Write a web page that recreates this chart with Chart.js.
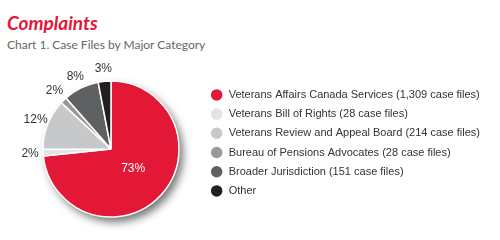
<!DOCTYPE html>
<html>
<head>
<meta charset="utf-8">
<script src="https://cdn.jsdelivr.net/npm/chart.js@4"></script>
<style>
    body { margin: 0; background: #fff; }
    #wrap { position: relative; width: 500px; height: 240px; }
    #title { position: absolute; left: 7px; top: 12px; font: italic bold 19px Lato, sans-serif; color: #e31837; line-height: 22px; }
    #subtitle { position: absolute; left: 7px; top: 37px; font: 12px Lato, sans-serif; color: #666; line-height: 16px; }
    canvas { position: absolute; left: 0; top: 0; }
</style>
</head>
<body>
<div id="wrap">
    <div id="title">Complaints</div>
    <div id="subtitle">Chart 1. Case Files by Major Category</div>
    <canvas id="caseFiles" width="500" height="240"></canvas>
</div>
<script>
const categories = [
    "Veterans Affairs Canada Services (1,309 case files)",
    "Veterans Bill of Rights (28 case files)",
    "Veterans Review and Appeal Board (214 case files)",
    "Bureau of Pensions Advocates (28 case files)",
    "Broader Jurisdiction (151 case files)",
    "Other"
];
const caseFiles = [1309, 28, 214, 28, 151, 54];
const sliceColors = ["#e31837", "#e2e3e4", "#c7c8ca", "#98999b", "#5f6062", "#231f20"];

/*----------------------------------------------------------------*/
// soft drop shadow behind the pie
const pieShadow = {
    id: "pieShadow",
    beforeDatasetsDraw(chart) {
        const { ctx } = chart;
        const arc = chart.getDatasetMeta(0).data[0];
        ctx.save();
        ctx.shadowColor = "rgba(0,0,0,0.55)";
        ctx.shadowBlur = 9;
        ctx.shadowOffsetX = 4;
        ctx.shadowOffsetY = 5;
        ctx.fillStyle = "#fff";
        ctx.beginPath();
        ctx.arc(arc.x, arc.y, arc.outerRadius, 0, Math.PI * 2);
        ctx.fill();
        ctx.restore();
    }
};

// percent labels: inside for the big slice, outside for the rest
const pctLabels = {
    id: "pctLabels",
    afterDatasetsDraw(chart) {
        const { ctx } = chart;
        const total = caseFiles.reduce((a, b) => a + b, 0);
        ctx.save();
        ctx.font = "12px 'Liberation Sans', Arial, sans-serif";
        ctx.textAlign = "center";
        ctx.textBaseline = "middle";
        chart.getDatasetMeta(0).data.forEach((arc, i) => {
            const mid = (arc.startAngle + arc.endAngle) / 2;
            const pct = Math.round(caseFiles[i] / total * 100) + "%";
            let r, color;
            if (i === 0) {
                r = arc.outerRadius * 0.44;
                color = "#fff";
            } else {
                r = arc.outerRadius + 13;
                color = "#333";
            }
            ctx.fillStyle = color;
            ctx.fillText(pct, arc.x + Math.cos(mid) * r, arc.y + Math.sin(mid) * r);
        });
        ctx.restore();
    }
};

new Chart(document.getElementById("caseFiles"), {
    type: "pie",
    data: {
        labels: categories,
        datasets: [
            {
                data: caseFiles,
                backgroundColor: sliceColors,
                borderColor: "#fff",
                borderWidth: 1.5,
                radius: 68
            }
        ]
    },
    options: {
        responsive: false,
        animation: false,
        layout: {
            padding: { top: 58, bottom: 0, left: 18, right: 10 }
        },
        plugins: {
            legend: {
                position: "right",
                align: "start",
                padding: 0,
                maxWidth: 320,
                // empty title used only as top spacing for the items
                title: {
                    display: true,
                    text: "",
                    font: { size: 12 },
                    padding: { top: 9.8, bottom: 0 }
                },
                labels: {
                    color: "#333",
                    font: { family: "'Liberation Sans', Arial, sans-serif", size: 11 },
                    boxWidth: 13,
                    boxHeight: 13,
                    useBorderRadius: true,
                    borderRadius: 6.5,
                    padding: 6.2
                }
            },
            tooltip: { enabled: false }
        }
    },
    plugins: [pieShadow, pctLabels]
});
</script>
</body>
</html>
